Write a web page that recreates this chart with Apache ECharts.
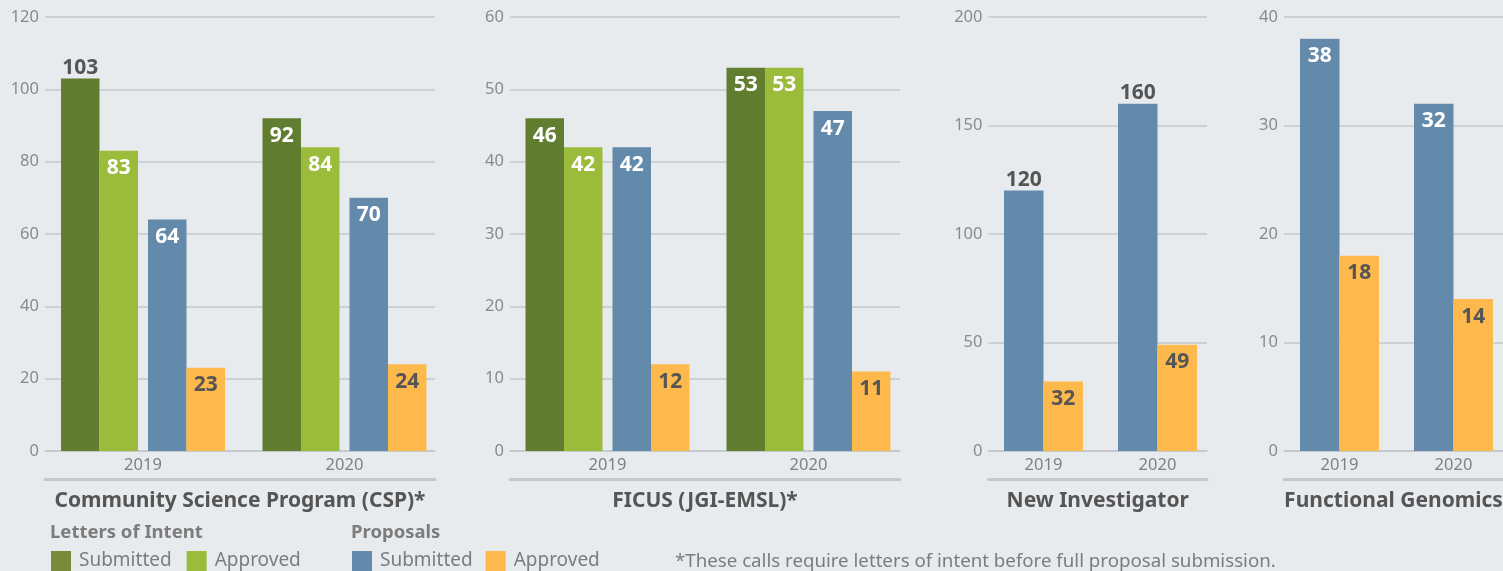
<!DOCTYPE html>
<html><head><meta charset="utf-8">
<script src="https://cdn.jsdelivr.net/npm/echarts@6/dist/echarts.min.js"></script>
<style>html,body{margin:0;padding:0;background:#e8ebee}#c{width:1503px;height:571px}</style>
</head><body><div id="c"></div>
<script>
// ---- data ----
const years = ['2019', '2020'];
const panelTitles = ['Community Science Program (CSP)*', 'FICUS (JGI-EMSL)*', 'New Investigator', 'Functional Genomics'];
const yMax = [120, 60, 200, 40];
const yStep = [20, 10, 50, 10];
const cspLoiSubmitted = [103, 92];
const cspLoiApproved = [83, 84];
const cspPropSubmitted = [64, 70];
const cspPropApproved = [23, 24];
const ficusLoiSubmitted = [46, 53];
const ficusLoiApproved = [42, 53];
const ficusPropSubmitted = [42, 47];
const ficusPropApproved = [12, 11];
const niPropSubmitted = [120, 160];
const niPropApproved = [32, 49];
const fgPropSubmitted = [38, 32];
const fgPropApproved = [18, 14];
const footnote = '*These calls require letters of intent before full proposal submission.';

// ---- styling ----
const C_DG = '#617d2f', C_LG = '#9bbb3b', C_BL = '#648aab', C_OR = '#fdb94c';
const C_LEG_DG = '#7a8a3b';
const TXT_DARK = '#555555', TXT_GRAY = '#7c7c7c';
const FONT = 'Noto Sans';

// frame grids (gridlines, axis line, underline, title)
const frameGrids = [
  {left: 45, width: 390, top: 17, bottom: 120},
  {left: 510, width: 390, top: 17, bottom: 120},
  {left: 988.5, width: 218.5, top: 17, bottom: 120},
  {left: 1284, width: 219, top: 17, bottom: 120}
];
// bar grids (category bands)
const barGrids = [
  {left: 42.25, width: 403, top: 17, bottom: 120},
  {left: 507, width: 402, top: 17, bottom: 120},
  {left: 986.5, width: 228, top: 17, bottom: 120},
  {left: 1282.5, width: 228, top: 17, bottom: 120}
];

const grids = [], xAxes = [], yAxes = [];
for (let i = 0; i < 4; i++) {
  grids.push(Object.assign({outerBoundsMode: 'none', containLabel: false}, frameGrids[i]),
             Object.assign({outerBoundsMode: 'none', containLabel: false}, barGrids[i]));
  const gA = 2 * i, gB = 2 * i + 1;
  xAxes.push({
    type: 'category', gridIndex: gA, data: years,
    axisLine: {lineStyle: {color: '#c4c7cb', width: 1.5}},
    axisTick: {show: false}, axisLabel: {show: false}
  });
  xAxes.push({
    type: 'category', gridIndex: gA, data: years, position: 'bottom', offset: 28,
    axisLine: {lineStyle: {color: '#c5c8cb', width: 3}},
    axisTick: {show: false}, axisLabel: {show: false},
    name: panelTitles[i], nameLocation: 'middle', nameGap: 12,
    nameTextStyle: {color: TXT_DARK, fontSize: 21, fontWeight: 'bold', fontFamily: FONT, verticalAlign: 'top'}
  });
  xAxes.push({
    type: 'category', gridIndex: gB, data: years,
    axisLine: {show: false}, axisTick: {show: false},
    axisLabel: {color: '#808080', fontSize: 16.5, fontFamily: FONT, margin: 6}
  });
  yAxes.push({
    type: 'value', gridIndex: gA, min: 0, max: yMax[i], interval: yStep[i],
    axisLine: {show: false}, axisTick: {show: false},
    splitLine: {lineStyle: {color: '#c4c7cb', width: 1.5}},
    axisLabel: {color: '#8a8a8a', fontSize: 16.5, fontFamily: FONT, margin: 6}
  });
  yAxes.push({
    type: 'value', gridIndex: gB, min: 0, max: yMax[i], interval: yStep[i], show: false,
    splitLine: {show: false}
  });
}

// labels that sit above their bar: [panel, seriesKey, index]
const outsideLabels = [[0, 'LOI Submitted', 0], [2, 'Proposal Submitted', 0], [2, 'Proposal Submitted', 1]];

function bar(panel, name, values, color, labelColor, width) {
  return {
    type: 'bar', name: name, xAxisIndex: panel * 3 + 2, yAxisIndex: panel * 2 + 1,
    barWidth: width, barGap: '0%', color: color,
    itemStyle: {color: color},
    label: {show: true, position: 'insideTop', distance: 7, color: labelColor,
      fontSize: 21, fontWeight: 'bold', fontFamily: FONT},
    emphasis: {disabled: true},
    data: values.map((v, i) => outsideLabels.some(o => o[0] === panel && o[1] === name && o[2] === i)
      ? {value: v, label: {position: 'top', distance: 0, color: TXT_DARK}} : v)
  };
}
function spacer(panel) {
  return {type: 'bar', name: 'spacer', xAxisIndex: panel * 3 + 2, yAxisIndex: panel * 2 + 1,
    barWidth: 10, barGap: '0%', data: [null, null], silent: true};
}

const series = [
  bar(0, 'LOI Submitted', cspLoiSubmitted, C_DG, '#fff', 38.5),
  bar(0, 'LOI Approved', cspLoiApproved, C_LG, '#fff', 38.5),
  spacer(0),
  bar(0, 'Proposal Submitted', cspPropSubmitted, C_BL, '#fff', 38.5),
  bar(0, 'Proposal Approved', cspPropApproved, C_OR, TXT_DARK, 38.5),
  bar(1, 'LOI Submitted', ficusLoiSubmitted, C_DG, '#fff', 38.5),
  bar(1, 'LOI Approved', ficusLoiApproved, C_LG, '#fff', 38.5),
  spacer(1),
  bar(1, 'Proposal Submitted', ficusPropSubmitted, C_BL, '#fff', 38.5),
  bar(1, 'Proposal Approved', ficusPropApproved, C_OR, TXT_DARK, 38.5),
  bar(2, 'Proposal Submitted', niPropSubmitted, C_BL, '#fff', 39.5),
  bar(2, 'Proposal Approved', niPropApproved, C_OR, TXT_DARK, 39.5),
  bar(3, 'Proposal Submitted', fgPropSubmitted, C_BL, '#fff', 39.5),
  bar(3, 'Proposal Approved', fgPropApproved, C_OR, TXT_DARK, 39.5)
];

const legendText = {color: TXT_GRAY, fontSize: 19, fontFamily: FONT, padding: [0, 0, 0, 3]};
const option = {
  backgroundColor: '#e8ebee',
  animation: false,
  grid: grids,
  xAxis: xAxes,
  yAxis: yAxes,
  series: series,
  title: [
    {text: 'Letters of Intent', left: 50, top: 523, padding: 0,
      textStyle: {color: TXT_GRAY, fontSize: 18.5, fontWeight: 'bold', fontFamily: FONT}},
    {text: 'Proposals', left: 351, top: 523, padding: 0,
      textStyle: {color: TXT_GRAY, fontSize: 18.5, fontWeight: 'bold', fontFamily: FONT}},
    {text: footnote, left: 675, top: 552, padding: 0,
      textStyle: {color: TXT_GRAY, fontSize: 18.7, fontWeight: 'normal', fontFamily: FONT}}
  ],
  legend: [
    {left: 51, top: 551, padding: 0, itemWidth: 20, itemHeight: 20, itemGap: 15, icon: 'rect',
      selectedMode: false, textStyle: legendText,
      formatter: n => n.replace('LOI ', ''),
      data: [{name: 'LOI Submitted', itemStyle: {color: C_LEG_DG}}, {name: 'LOI Approved'}]},
    {left: 352, top: 551, padding: 0, itemWidth: 20, itemHeight: 20, itemGap: 13, icon: 'rect',
      selectedMode: false, textStyle: legendText,
      formatter: n => n.replace('Proposal ', ''),
      data: [{name: 'Proposal Submitted'}, {name: 'Proposal Approved'}]}
  ]
};
const chart = echarts.init(document.getElementById('c'), null, {renderer: 'canvas'});
chart.setOption(option);
</script></body></html>
